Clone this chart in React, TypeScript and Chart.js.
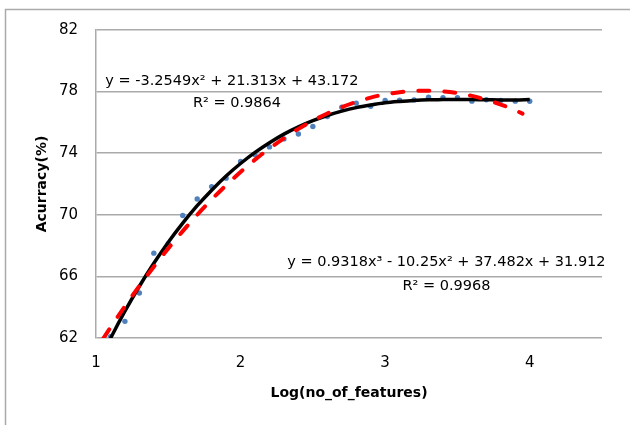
import React, { useEffect, useRef } from 'react';
import { Chart, registerables } from 'chart.js';

Chart.register(...registerables);

// ---- data ----
const logFeatures = [1.1, 1.2, 1.3, 1.4, 1.5, 1.6, 1.7, 1.8, 1.9, 2.0, 2.1, 2.2, 2.3, 2.4, 2.5, 2.6, 2.7, 2.8, 2.9, 3.0, 3.1, 3.2, 3.3, 3.4, 3.5, 3.6, 3.7, 3.8, 3.9, 4.0];
const accuracy = [62.09, 63.08, 64.92, 67.51, 68.12, 69.95, 71.03, 71.83, 72.38, 73.46, 73.9, 74.41, 74.93, 75.25, 75.73, 76.38, 76.98, 77.25, 77.05, 77.42, 77.44, 77.46, 77.63, 77.61, 77.6, 77.38, 77.47, 77.42, 77.38, 77.37];

const quadFitX = [1.05, 1.1, 1.2, 1.3, 1.4, 1.5, 1.6, 1.7, 1.8, 1.9, 2.0, 2.1, 2.2, 2.3, 2.4, 2.5, 2.6, 2.7, 2.8, 2.9, 3.0, 3.1, 3.2, 3.3, 3.4, 3.5, 3.6, 3.7, 3.8, 3.9, 3.95];
const quadFitY = [61.96, 62.68, 64.06, 65.38, 66.63, 67.82, 68.94, 70.0, 70.99, 71.92, 72.78, 73.58, 74.31, 74.97, 75.58, 76.11, 76.58, 76.99, 77.33, 77.61, 77.82, 77.96, 78.04, 78.06, 78.01, 77.9, 77.72, 77.47, 77.16, 76.79, 76.57];

const cubicFitX = [1.1, 1.2, 1.3, 1.4, 1.5, 1.6, 1.7, 1.8, 1.9, 2.0, 2.1, 2.2, 2.3, 2.4, 2.5, 2.6, 2.7, 2.8, 2.9, 3.0, 3.1, 3.2, 3.3, 3.4, 3.5, 3.6, 3.7, 3.8, 3.9, 4.0];
const cubicFitY = [61.98, 63.74, 65.36, 66.85, 68.22, 69.46, 70.59, 71.6, 72.52, 73.33, 74.05, 74.68, 75.24, 75.71, 76.11, 76.45, 76.73, 76.96, 77.13, 77.27, 77.36, 77.43, 77.47, 77.48, 77.49, 77.48, 77.47, 77.46, 77.46, 77.48];

const xTicks = [1, 2, 3, 4];
const yTicks = [62, 66, 70, 74, 78, 82];

const quadEquation = 'y = -3.2549x² + 21.313x + 43.172';
const quadR2 = 'R² = 0.9864';
const cubicEquation = 'y = 0.9318x³ - 10.25x² + 37.482x + 31.912';
const cubicR2 = 'R² = 0.9968';

const xTitle = 'Log(no_of_features)';
const yTitle = 'Acurracy(%)';

const FONT = "'DejaVu Sans', sans-serif";
const GRID = '#aaaaaa';

const framePlugin = {
  id: 'frame',
  beforeDraw(chart: any) {
    const ctx = chart.ctx;
    ctx.save();
    ctx.fillStyle = '#ffffff';
    ctx.fillRect(0, 0, chart.width, chart.height);
    ctx.strokeStyle = GRID;
    ctx.lineWidth = 1.5;
    ctx.beginPath();
    ctx.moveTo(5.5, chart.height);
    ctx.lineTo(5.5, 9.5);
    ctx.lineTo(chart.width, 9.5);
    ctx.stroke();
    ctx.restore();
  },
};

const annotationPlugin = {
  id: 'trendLabels',
  afterDraw(chart: any) {
    const ctx = chart.ctx;
    const xs = chart.scales.x;
    const ys = chart.scales.y;
    const items = [
      { text: quadEquation, x: 1.94, y: 78.69 },
      { text: quadR2, x: 1.975, y: 77.24 },
      { text: cubicEquation, x: 3.424, y: 66.95 },
      { text: cubicR2, x: 3.424, y: 65.33 },
    ];
    ctx.save();
    ctx.fillStyle = '#000000';
    ctx.font = `14.5px ${FONT}`;
    ctx.textAlign = 'center';
    ctx.textBaseline = 'middle';
    for (const it of items) {
      ctx.fillText(it.text, xs.getPixelForValue(it.x), ys.getPixelForValue(it.y));
    }
    ctx.restore();
  },
};

export default function App() {
  const ref = useRef<HTMLCanvasElement>(null);

  useEffect(() => {
    const canvas = ref.current;
    if (!canvas) return;
    const chart = new Chart(canvas, {
      type: 'scatter',
      data: {
        datasets: [
          {
            label: 'Poly. (quadratic)',
            data: quadFitX.map((x, i) => ({ x, y: quadFitY[i] })),
            showLine: true,
            borderColor: '#ff0000',
            borderWidth: 4,
            borderDash: [11, 15],
            borderCapStyle: 'round',
            cubicInterpolationMode: 'monotone',
            pointRadius: 0,
            fill: false,
          } as any,
          {
            label: 'Poly. (cubic)',
            data: cubicFitX.map((x, i) => ({ x, y: cubicFitY[i] })),
            showLine: true,
            borderColor: '#000000',
            borderWidth: 3.5,
            cubicInterpolationMode: 'monotone',
            pointRadius: 0,
            fill: false,
          } as any,
          {
            label: 'Accuracy',
            data: logFeatures.map((x, i) => ({ x, y: accuracy[i] })),
            showLine: false,
            pointRadius: 2.7,
            pointBackgroundColor: '#4f81bd',
            pointBorderWidth: 0,
            borderColor: '#4f81bd',
          } as any,
        ],
      },
      options: {
        animation: false,
        responsive: false,
        devicePixelRatio: 1,
        layout: { padding: { left: 0, top: 30, right: 28, bottom: 0 } },
        plugins: {
          legend: { display: false },
          tooltip: { enabled: false },
        },
        scales: {
          x: {
            type: 'linear',
            min: 1,
            max: 4.5,
            afterBuildTicks: (scale: any) => {
              scale.ticks = xTicks.map((v) => ({ value: v }));
            },
            afterFit: (scale: any) => {
              scale.height = 87;
            },
            grid: { display: false, drawTicks: false },
            border: { display: false },
            ticks: {
              padding: 16,
              color: '#000000',
              font: { family: FONT, size: 15 },
              maxRotation: 0,
              callback: (v: any) => String(v),
            },
            title: {
              display: true,
              text: xTitle,
              color: '#000000',
              font: { family: FONT, size: 14, weight: 'bold' },
              padding: { top: 0, bottom: 23.5 },
            },
          },
          y: {
            type: 'linear',
            min: 62,
            max: 82,
            afterBuildTicks: (scale: any) => {
              scale.ticks = yTicks.map((v) => ({ value: v }));
            },
            afterFit: (scale: any) => {
              scale.width = 96;
            },
            grid: { color: GRID, lineWidth: 1.5, drawTicks: false },
            border: { display: true, color: GRID, width: 1.5 },
            ticks: {
              padding: 18,
              color: '#000000',
              font: { family: FONT, size: 15 },
              callback: (v: any) => String(v),
            },
            title: {
              display: true,
              text: yTitle,
              color: '#000000',
              font: { family: FONT, size: 14, weight: 'bold' },
              padding: { top: 33.5, bottom: 0 },
            },
          },
        },
      } as any,
      plugins: [framePlugin, annotationPlugin],
    });
    return () => chart.destroy();
  }, []);

  return (
    <div style={{ position: 'absolute', left: 0, top: 0, width: 630, height: 425, background: '#ffffff' }}>
      <canvas ref={ref} width={630} height={425} style={{ display: 'block', width: 630, height: 425 }} />
    </div>
  );
}
